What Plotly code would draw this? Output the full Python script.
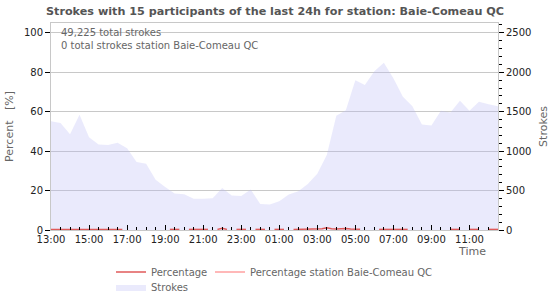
import plotly.graph_objects as go
import pandas as pd

# ---- data ----
start = "2024-05-01 13:00"
stroke_times = pd.date_range(start, periods=48, freq="30min")
strokes = [1380, 1358, 1213, 1463, 1175, 1085, 1078, 1108,
           1038, 863, 840, 638, 545, 463, 453, 395,
           395, 403, 533, 438, 430, 513, 330, 323,
           363, 450, 490, 583, 713, 950, 1450, 1518,
           1900, 1838, 2013, 2120, 1925, 1690, 1570, 1338,
           1325, 1513, 1490, 1638, 1513, 1625, 1595, 1568]

pct_times = pd.date_range(start, periods=95, freq="15min")
N = None
percentage = [0.3, 0.3, 0.3, 0.3, 0.3, 0.3, 0.3, 0.3, 0.3, 0.3, 0.3, 0.3, 0.3, 0.3, 0.3, 0.3,
              N, N, N, N, N, N, N, N, N,
              0.3, 0.3, 0.3, N,
              0.3, 0.3, 0.3, 0.3, 0.3, N,
              0.3, 0.9, 0.3, N,
              0.3, 0.3, 0.3, N,
              0.3, 0.3, 0.3, N,
              0.3, 0.3, 0.3, N,
              0.3, 0.4, 0.4, 0.5, 0.5, 0.6, 0.6, 1.1, 0.6, 0.5, 0.7, 0.8, 0.5, 0.6, 0.4,
              N, N, N,
              0.3, 0.3, 0.3, 0.3, 0.3, 0.3, 0.3,
              N, N, N, N, N, N, N, N,
              0.3, 0.3, 0.3, N,
              0.3, 0.3, 0.3, N,
              0.3, 0.3, 0.3]
station_pct = [None] * 95

title = "Strokes with 15 participants of the last 24h for station: Baie-Comeau QC"
info_lines = ["49,225 total strokes", "0 total strokes station Baie-Comeau QC"]

FONT = "DejaVu Sans"
GRAY = "#666666"
FILL = "rgba(185,185,245,0.3)"

fig = go.Figure()
fig.add_trace(go.Scatter(
    x=stroke_times, y=strokes, name="Strokes", yaxis="y",
    mode="lines", line=dict(width=0, color=FILL),
    fill="tozeroy", fillcolor=FILL, legend="legend3",
))
fig.add_trace(go.Scatter(
    x=pct_times, y=percentage, name="Percentage", mode="lines", yaxis="y2",
    line=dict(color="#e05a5a", width=1.5), legend="legend",
))
fig.add_trace(go.Scatter(
    x=pct_times, y=station_pct, name="Percentage station Baie-Comeau QC", mode="lines",
    yaxis="y2", line=dict(color="#ffa0a0", width=1.5), legend="legend2",
))

L, R, T, B = 51, 52, 23, 70
W, H = 550, 300

legend_common = dict(orientation="h", font=dict(family=FONT, size=10, color=GRAY),
                     bgcolor="rgba(0,0,0,0)", xanchor="left", yanchor="middle",
                     xref="container", yref="container", itemwidth=30)

def cx(px):
    return px / W

def cy(py):
    return 1 - py / H

fig.update_layout(
    width=W, height=H,
    margin=dict(l=L, r=R, t=T, b=B, autoexpand=False),
    paper_bgcolor="white", plot_bgcolor="white",
    showlegend=True,
    font=dict(family=FONT, size=10, color="#222222"),
    title=dict(text="<b>" + title + "</b>", x=0.5, xanchor="center", y=1 - 11 / H,
               yanchor="middle", font=dict(family=FONT, size=11.2, color="#555555")),
    xaxis=dict(
        type="date", range=[stroke_times[0], stroke_times[-1]],
        tickformat="%H:%M", dtick=2 * 3600 * 1000, tick0=stroke_times[0],
        ticks="inside", ticklen=5, tickcolor="black", tickwidth=1,
        minor=dict(ticks="inside", dtick=30 * 60 * 1000, ticklen=3, tickcolor="black",
                   showgrid=False),
        showgrid=False, showline=True, linecolor="#c8c8c8", mirror=True,
        tickfont=dict(size=10, color="#222222"), zeroline=False,
    ),
    yaxis=dict(
        side="right", range=[0, 2625], dtick=500,
        ticks="outside", ticklen=5, tickcolor="black",
        minor=dict(ticks="outside", dtick=100, ticklen=3, tickcolor="black", showgrid=False),
        showgrid=True, gridcolor="#c8c8c8", zeroline=False,
        showline=True, linecolor="#c8c8c8", mirror=True,
        title=dict(text="Strokes", font=dict(size=11, color=GRAY), standoff=8),
        tickfont=dict(size=10, color="#222222"),
    ),
    yaxis2=dict(
        overlaying="y", side="left", range=[0, 105], dtick=20,
        ticks="outside", ticklen=5, tickcolor="black",
        showgrid=False, showline=False, zeroline=False,
        title=dict(text="Percent   [%]", font=dict(size=11, color=GRAY), standoff=8),
        tickfont=dict(size=10, color="#222222"),
    ),
    legend=dict(x=cx(111), y=cy(272), **legend_common),
    legend2=dict(x=cx(210), y=cy(272), **legend_common),
    legend3=dict(x=cx(111), y=cy(287), **legend_common),
    annotations=[
        dict(text="<br>".join(info_lines), xref="paper", yref="paper",
             x=(59 - L) / (W - L - R), y=(H - B - 25) / (H - T - B),
             xanchor="left", yanchor="top", align="left",
             showarrow=False, font=dict(family=FONT, size=10, color=GRAY)),
        dict(text="Time", xref="paper", yref="paper",
             x=(472 - L) / (W - L - R), y=(H - B - 251.5) / (H - T - B),
             xanchor="center", yanchor="middle", showarrow=False,
             font=dict(family=FONT, size=11, color=GRAY)),
    ],
)

fig.write_html("out.html")
